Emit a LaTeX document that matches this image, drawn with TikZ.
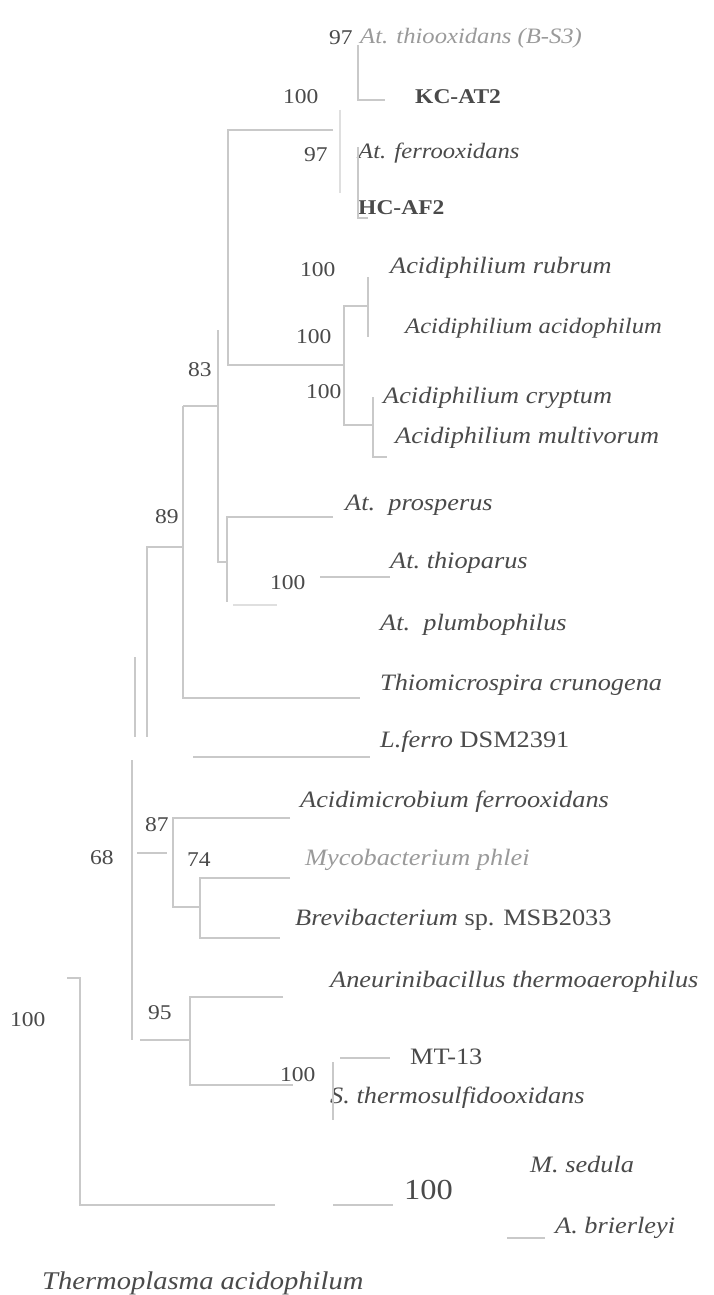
\documentclass[tikz,border=0pt]{standalone}
\usepackage{fontspec}
\setmainfont[FakeStretch=1.12]{Liberation Serif}
\definecolor{linegray}{HTML}{C9C9C9}
\definecolor{txt}{HTML}{4A4A4A}
\definecolor{txtlight}{HTML}{9A9A9A}
\begin{document}
\begin{tikzpicture}[x=1pt,y=-1pt,
  br/.style={draw=linegray, line width=1.1pt},
  brf/.style={draw=linegray!60, line width=1.1pt},
  taxon/.style={anchor=west, inner sep=0pt, text=txt, font=\fontsize{23.5}{25}\selectfont\itshape},
  plain/.style={anchor=west, inner sep=0pt, text=txt, font=\fontsize{23.5}{25}\selectfont},
  strain/.style={anchor=west, inner sep=0pt, text=txt, font=\fontsize{21}{23}\selectfont\bfseries},
  bs/.style={anchor=west, inner sep=0pt, text=txt, font=\fontsize{21}{23}\selectfont}]
\useasboundingbox (0,0) rectangle (714,1295);
\fill[white] (0,0) rectangle (714,1295);

% ---- taxa ----
\node[taxon, text=txtlight, font=\fontsize{22}{24}\selectfont\itshape] (thio) at (360,38) {At. thiooxidans (B-S3)};
\node[strain] (kc) at (415,97) {KC-AT2};
\node[taxon, font=\fontsize{22}{24}\selectfont\itshape] (ferro) at (358,153) {At. ferrooxidans};
\node[strain] (hc) at (358,208) {HC-AF2};
\node[taxon] (rub) at (390,268) {Acidiphilium rubrum};
\node[taxon, font=\fontsize{22}{24}\selectfont\itshape] (acid) at (405,328) {Acidiphilium acidophilum};
\node[taxon] (cryp) at (383,398) {Acidiphilium cryptum};
\node[taxon] (mult) at (395,438) {Acidiphilium multivorum};
\node[taxon] (pros) at (345,505) {At.\ \ prosperus};
\node[taxon] (thiop) at (390,563) {At.\ thioparus};
\node[taxon] (plumb) at (380,625) {At.\ \ plumbophilus};
\node[taxon] (thiom) at (380,685) {Thiomicrospira crunogena};
\node[plain] (lfer) at (380,742) {\textit{L.ferro} DSM2391};
\node[taxon] (acmi) at (300,802) {Acidimicrobium ferrooxidans};
\node[taxon, text=txtlight] (myco) at (305,860) {Mycobacterium phlei};
\node[plain] (brev) at (295,920) {\textit{Brevibacterium} sp. MSB2033};
\node[taxon] (aneu) at (330,982) {Aneurinibacillus thermoaerophilus};
\node[plain] (mt) at (410,1057) {MT-13};
\node[taxon] (sthe) at (330,1098) {S. thermosulfidooxidans};
\node[taxon] (msed) at (530,1164) {M. sedula};
\node[taxon] (abri) at (555,1228) {A. brierleyi};
\node[taxon, font=\fontsize{25.5}{27}\selectfont\itshape] (tpla) at (42,1283) {Thermoplasma acidophilum};

% ---- bootstrap values ----
\node[bs] (b1) at (329,38) {97};
\node[bs] (b2) at (283,97) {100};
\node[bs] (b3) at (304,155) {97};
\node[bs] (b4) at (300,270) {100};
\node[bs] (b5) at (296,337) {100};
\node[bs] (b6) at (188,370) {83};
\node[bs] (b7) at (306,392) {100};
\node[bs] (b8) at (155,517) {89};
\node[bs] (b9) at (270,583) {100};
\node[bs] (b10) at (145,825) {87};
\node[bs] (b11) at (90,858) {68};
\node[bs] (b12) at (187,860) {74};
\node[bs] (b13) at (10,1020) {100};
\node[bs] (b14) at (148,1013) {95};
\node[bs] (b15) at (280,1075) {100};
\node[bs, font=\fontsize{29}{31}\selectfont] (b16) at (404,1190) {100};

% ---- branches ----
\draw[br] (358,45) -- (358,100) -- (385,100);
\draw[br] (358,147) -- (358,218) -- (368,218);
\draw[brf] (340,110) -- (340,193);
\draw[br] (333,130) -- (228,130) -- (228,365) -- (344,365);
\draw[br] (368,277) -- (368,337);
\draw[br] (368,306) -- (344,306) -- (344,425) -- (373,425);
\draw[br] (373,397) -- (373,457) -- (387,457);
\draw[br] (218,330) -- (218,562) -- (227,562);
\draw[br] (183,406) -- (218,406);
\draw[br] (333,517) -- (227,517) -- (227,602);
\draw[br] (320,577) -- (390,577);
\draw[brf] (233,605) -- (277,605);
\draw[br] (183,406) -- (183,698) -- (360,698);
\draw[br] (182,547) -- (147,547) -- (147,737);
\draw[br] (135,657) -- (135,737);
\draw[br] (193,757) -- (370,757);
\draw[br] (132,760) -- (132,1040);
\draw[br] (137,853) -- (167,853);
\draw[br] (290,818) -- (173,818) -- (173,907) -- (200,907);
\draw[br] (290,878) -- (200,878) -- (200,938) -- (280,938);
\draw[br] (283,997) -- (190,997) -- (190,1085) -- (293,1085);
\draw[br] (140,1040) -- (190,1040);
\draw[br] (333,1062) -- (333,1120);
\draw[br] (340,1058) -- (390,1058);
\draw[br] (67,978) -- (80,978) -- (80,1205) -- (275,1205);
\draw[br] (333,1205) -- (393,1205);
\draw[br] (507,1238) -- (545,1238);
\end{tikzpicture}
\end{document}
